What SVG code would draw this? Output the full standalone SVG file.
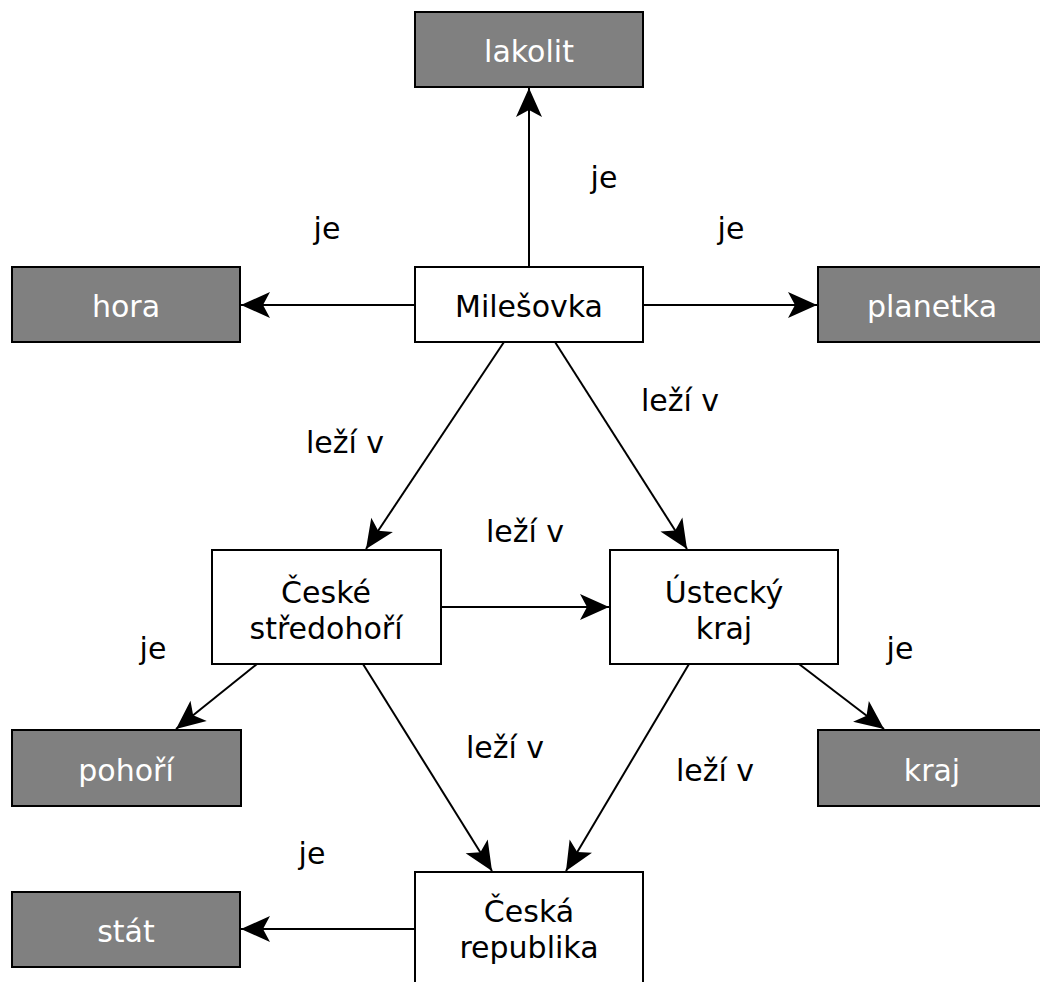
<svg xmlns="http://www.w3.org/2000/svg" width="1040" height="982" viewBox="0 0 1040 982">
  <style>
    .box { stroke: #000; stroke-width: 2; }
    .plain { fill: #fff; }
    .dark { fill: #808080; }
    .t { font-family: "DejaVu Sans", sans-serif; font-size: 30px; text-anchor: middle; }
    .tw { fill: #fff; }
    .tb { fill: #000; }
    .edge { stroke: #000; stroke-width: 2; fill: none; marker-end: url(#arrow); }
  </style>
  <defs>
    <!-- notched open-back arrowhead, tip at the line end -->
    <marker id="arrow" markerWidth="32" markerHeight="28" viewBox="0 0 32 28" refX="30" refY="14" orient="auto" markerUnits="userSpaceOnUse">
      <path d="M30,14 L1,1 L8,14 L1,27 Z" fill="#000"/>
    </marker>
  </defs>

  <rect width="1040" height="982" fill="#fff"/>

  <g id="connectors">
    <line class="edge" x1="529" y1="267" x2="529" y2="88"/>
    <line class="edge" x1="415" y1="305" x2="241" y2="305"/>
    <line class="edge" x1="643" y1="305" x2="817" y2="305"/>
    <line class="edge" x1="504" y1="342" x2="366" y2="549"/>
    <line class="edge" x1="555" y1="342" x2="687" y2="549"/>
    <line class="edge" x1="441" y1="607" x2="609" y2="607"/>
    <line class="edge" x1="257" y1="664" x2="176" y2="729"/>
    <line class="edge" x1="363" y1="664" x2="492" y2="871"/>
    <line class="edge" x1="689" y1="664" x2="566" y2="871"/>
    <line class="edge" x1="799" y1="664" x2="884" y2="729"/>
    <line class="edge" x1="415" y1="929" x2="241" y2="929"/>
  </g>

  <g id="edge-labels" class="t tb">
    <text x="604" y="188">je</text>
    <text x="327" y="239">je</text>
    <text x="731" y="239">je</text>
    <text x="345" y="453">leží v</text>
    <text x="680" y="411">leží v</text>
    <text x="525" y="542">leží v</text>
    <text x="153" y="659">je</text>
    <text x="900" y="659">je</text>
    <text x="312" y="864">je</text>
    <text x="505" y="758">leží v</text>
    <text x="715" y="781">leží v</text>
  </g>

  <g id="lakolit">
    <rect class="box dark" x="415" y="12" width="228" height="75"/>
    <text class="t tw" x="529" y="62">lakolit</text>
  </g>
  <g id="hora">
    <rect class="box dark" x="12" y="267" width="228" height="75"/>
    <text class="t tw" x="126" y="317">hora</text>
  </g>
  <g id="milesovka">
    <rect class="box plain" x="415" y="267" width="228" height="75"/>
    <text class="t tb" x="529" y="317">Milešovka</text>
  </g>
  <g id="planetka">
    <rect class="box dark" x="818" y="267" width="228" height="75"/>
    <text class="t tw" x="932" y="317">planetka</text>
  </g>
  <g id="ceske-stredohori">
    <rect class="box plain" x="212" y="550" width="229" height="114"/>
    <text class="t tb" x="326" y="603">České</text>
    <text class="t tb" x="326" y="639">středohoří</text>
  </g>
  <g id="ustecky-kraj">
    <rect class="box plain" x="610" y="550" width="228" height="114"/>
    <text class="t tb" x="724" y="603">Ústecký</text>
    <text class="t tb" x="724" y="639">kraj</text>
  </g>
  <g id="pohori">
    <rect class="box dark" x="12" y="730" width="229" height="76"/>
    <text class="t tw" x="126" y="781">pohoří</text>
  </g>
  <g id="kraj">
    <rect class="box dark" x="818" y="730" width="228" height="76"/>
    <text class="t tw" x="932" y="781">kraj</text>
  </g>
  <g id="ceska-republika">
    <rect class="box plain" x="415" y="872" width="228" height="120"/>
    <text class="t tb" x="529" y="922">Česká</text>
    <text class="t tb" x="529" y="958">republika</text>
  </g>
  <g id="stat">
    <rect class="box dark" x="12" y="892" width="228" height="75"/>
    <text class="t tw" x="126" y="942">stát</text>
  </g>
</svg>
